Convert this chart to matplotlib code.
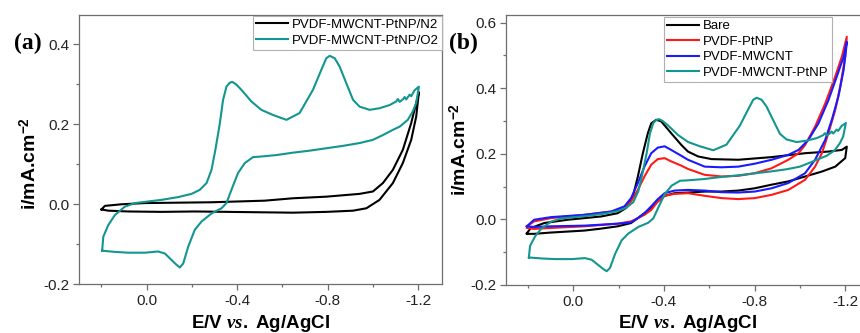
import matplotlib
matplotlib.use("Agg")
import matplotlib.pyplot as plt
from matplotlib.ticker import FixedLocator, FormatStrFormatter

# ---------------- data (E in V vs Ag/AgCl, i in mA cm^-2) ----------------
# PVDF-MWCNT-PtNP (O2) -- same curve appears in both panels
teal_E_fwd = [0.196, 0.191, 0.169, 0.140, 0.096, 0.051, -0.007, -0.066, -0.140, -0.199,
              -0.235, -0.265, -0.287, -0.304, -0.324, -0.338, -0.353, -0.366, -0.378, -0.395,
              -0.419, -0.463, -0.507, -0.559, -0.618, -0.676, -0.735, -0.772, -0.794, -0.809,
              -0.831, -0.853, -0.882, -0.912, -0.941, -0.985, -1.029, -1.074, -1.103, -1.110,
              -1.118, -1.132, -1.140, -1.147, -1.162, -1.169, -1.184, -1.203]
teal_I_fwd = [-0.116, -0.081, -0.052, -0.027, -0.006, 0.003, 0.007, 0.011, 0.018, 0.026,
              0.036, 0.053, 0.086, 0.136, 0.203, 0.261, 0.294, 0.303, 0.306, 0.300,
              0.286, 0.257, 0.236, 0.223, 0.211, 0.228, 0.286, 0.336, 0.365, 0.371,
              0.365, 0.344, 0.303, 0.261, 0.244, 0.236, 0.240, 0.248, 0.257, 0.263,
              0.256, 0.262, 0.268, 0.262, 0.274, 0.270, 0.285, 0.294]
teal_E_rev = [-1.191, -1.176, -1.154, -1.118, -1.088, -1.044, -1.0, -0.941, -0.868, -0.794,
              -0.721, -0.647, -0.574, -0.5, -0.471, -0.434, -0.404, -0.375, -0.353, -0.331,
              -0.287, -0.243, -0.213, -0.184, -0.162, -0.147, -0.130, -0.110, -0.081, -0.051,
              0.007, 0.081, 0.140, 0.196]
teal_I_rev = [0.253, 0.232, 0.211, 0.194, 0.186, 0.173, 0.161, 0.153, 0.146, 0.140,
              0.134, 0.129, 0.123, 0.119, 0.118, 0.103, 0.078, 0.036, 0.003, -0.010,
              -0.023, -0.043, -0.064, -0.106, -0.148, -0.158, -0.150, -0.139, -0.123, -0.118,
              -0.121, -0.121, -0.119, -0.116]

# PVDF-MWCNT-PtNP (N2)
n2_E_fwd = [0.199, 0.184, 0.110, 0.007, -0.140, -0.287, -0.522, -0.647, -0.794, -0.941,
            -1.0, -1.044, -1.088, -1.132, -1.169, -1.191, -1.203]
n2_I_fwd = [-0.013, -0.004, 0.0, 0.003, 0.004, 0.005, 0.009, 0.015, 0.019, 0.026,
            0.032, 0.053, 0.086, 0.136, 0.203, 0.253, 0.280]
n2_E_rev = [-1.191, -1.169, -1.132, -1.088, -1.029, -0.971, -0.912, -0.794, -0.647, -0.213,
            -0.066, 0.081, 0.169, 0.199]
n2_I_rev = [0.219, 0.161, 0.103, 0.053, 0.011, -0.010, -0.016, -0.019, -0.021, -0.018,
            -0.019, -0.018, -0.016, -0.013]

# Bare
bare_E_fwd = [0.205, 0.187, 0.128, 0.025, -0.049, -0.123, -0.196, -0.233, -0.263, -0.285,
              -0.307, -0.329, -0.344, -0.366, -0.388, -0.432, -0.477, -0.506, -0.551, -0.610,
              -0.728, -0.875, -1.023, -1.126, -1.185, -1.207]
bare_I_fwd = [-0.042, -0.026, -0.011, -0.001, 0.004, 0.009, 0.019, 0.035, 0.070, 0.131,
              0.202, 0.263, 0.293, 0.304, 0.299, 0.263, 0.227, 0.207, 0.192, 0.184,
              0.182, 0.190, 0.202, 0.207, 0.212, 0.222]
bare_E_rev = [-1.200, -1.156, -1.097, -1.023, -0.949, -0.875, -0.801, -0.728, -0.654, -0.580,
              -0.506, -0.447, -0.403, -0.373, -0.344, -0.314, -0.285, -0.255, -0.196, -0.123,
              -0.049, 0.025, 0.099, 0.173, 0.205]
bare_I_rev = [0.187, 0.161, 0.146, 0.131, 0.116, 0.106, 0.095, 0.088, 0.085, 0.085,
              0.082, 0.080, 0.072, 0.055, 0.035, 0.019, 0.004, -0.011, -0.021, -0.028,
              -0.034, -0.037, -0.040, -0.044, -0.044]

# PVDF-PtNP
ptnp_E_fwd = [0.205, 0.173, 0.099, -0.049, -0.167, -0.226, -0.255, -0.285, -0.314, -0.344,
              -0.373, -0.403, -0.432, -0.477, -0.506, -0.580, -0.654, -0.728, -0.801, -0.875,
              -0.949, -0.994, -1.023, -1.067, -1.112, -1.156, -1.185, -1.207]
ptnp_I_fwd = [-0.021, -0.006, 0.004, 0.014, 0.024, 0.035, 0.055, 0.090, 0.131, 0.167,
              0.184, 0.187, 0.177, 0.164, 0.154, 0.136, 0.131, 0.133, 0.141, 0.156,
              0.182, 0.202, 0.227, 0.283, 0.354, 0.436, 0.496, 0.557]
ptnp_E_rev = [-1.200, -1.178, -1.156, -1.126, -1.097, -1.067, -1.023, -0.949, -0.875, -0.801,
              -0.728, -0.654, -0.580, -0.506, -0.447, -0.403, -0.373, -0.344, -0.314, -0.285,
              -0.255, -0.196, -0.049, 0.099, 0.173, 0.205]
ptnp_I_rev = [0.496, 0.405, 0.334, 0.263, 0.202, 0.161, 0.121, 0.090, 0.075, 0.065,
              0.062, 0.065, 0.072, 0.080, 0.078, 0.072, 0.055, 0.029, 0.014, 0.004,
              -0.006, -0.013, -0.021, -0.026, -0.029, -0.026]

# PVDF-MWCNT
mw_E_fwd = [0.205, 0.173, 0.099, -0.049, -0.167, -0.226, -0.255, -0.285, -0.314, -0.344,
            -0.373, -0.403, -0.432, -0.477, -0.506, -0.580, -0.654, -0.728, -0.801, -0.875,
            -0.949, -0.994, -1.038, -1.082, -1.126, -1.163, -1.193, -1.207]
mw_I_fwd = [-0.021, -0.001, 0.007, 0.014, 0.024, 0.040, 0.065, 0.111, 0.161, 0.202,
            0.219, 0.223, 0.212, 0.194, 0.182, 0.161, 0.159, 0.161, 0.170, 0.182,
            0.197, 0.212, 0.243, 0.293, 0.364, 0.436, 0.496, 0.542]
mw_E_rev = [-1.207, -1.193, -1.170, -1.141, -1.112, -1.067, -1.023, -0.949, -0.875, -0.801,
            -0.728, -0.654, -0.580, -0.506, -0.447, -0.403, -0.373, -0.344, -0.314, -0.285,
            -0.255, -0.196, -0.049, 0.099, 0.173, 0.205]
mw_I_rev = [0.537, 0.456, 0.375, 0.304, 0.243, 0.182, 0.141, 0.111, 0.095, 0.085,
            0.082, 0.083, 0.088, 0.090, 0.088, 0.080, 0.062, 0.040, 0.019, 0.004,
            -0.009, -0.013, -0.019, -0.021, -0.023, -0.021]

x_major = [0.0, -0.4, -0.8, -1.2]
x_minor = [0.2, -0.2, -0.6, -1.0]
ya_major = [-0.2, 0.0, 0.2, 0.4]
ya_minor = [-0.1, 0.1, 0.3]
yb_major = [-0.2, 0.0, 0.2, 0.4, 0.6]
yb_minor = [-0.1, 0.1, 0.3, 0.5]

labels_a = ["PVDF-MWCNT-PtNP/N2", "PVDF-MWCNT-PtNP/O2"]
labels_b = ["Bare", "PVDF-PtNP", "PVDF-MWCNT", "PVDF-MWCNT-PtNP"]

# ---------------- style ----------------
plt.rcParams["font.family"] = ["Liberation Sans", "DejaVu Sans"]
plt.rcParams["axes.unicode_minus"] = False
plt.rcParams["mathtext.fontset"] = "custom"
plt.rcParams["mathtext.rm"] = "Liberation Sans:bold"
plt.rcParams["mathtext.bf"] = "Liberation Sans:bold"
plt.rcParams["mathtext.it"] = "Liberation Serif:bold:italic"

TEAL = "#13968f"
SPINE = "#6e6e6e"
LW = 1.5

fig = plt.figure(figsize=(8.6, 3.33), dpi=100)
ax_a = fig.add_axes([79.3 / 860, 1 - 284.3 / 333, (442 - 79.3) / 860, (284.3 - 15) / 333])
ax_b = fig.add_axes([506 / 860, 1 - 285 / 333, (869 - 506) / 860, (285 - 15) / 333])


def loop(ef, i_f, er, ir):
    return list(ef) + list(er), list(i_f) + list(ir)


def style(ax, ymaj, ymin, ylim):
    ax.set_xlim(0.297, -1.305)
    ax.set_ylim(*ylim)
    ax.xaxis.set_major_locator(FixedLocator(x_major))
    ax.xaxis.set_minor_locator(FixedLocator(x_minor))
    ax.yaxis.set_major_locator(FixedLocator(ymaj))
    ax.yaxis.set_minor_locator(FixedLocator(ymin))
    ax.xaxis.set_major_formatter(FormatStrFormatter("%.1f"))
    ax.yaxis.set_major_formatter(FormatStrFormatter("%.1f"))
    for s in ax.spines.values():
        s.set_color(SPINE)
        s.set_linewidth(0.9)
    ax.tick_params(which="major", direction="out", length=4, width=0.9, color=SPINE,
                   labelsize=11, labelcolor="#222222", pad=3)
    ax.tick_params(which="minor", direction="out", length=2.5, width=0.9, color=SPINE)
    ax.set_xlabel(r"E/V $\mathit{vs.}$ Ag/AgCl", fontsize=13.5, fontweight="bold")
    ax.set_ylabel(r"i/mA.cm$^{-2}$", fontsize=14, fontweight="bold")


LEG_KW = dict(loc="upper right", borderaxespad=0, fontsize=9.5, handlelength=2.4,
              handletextpad=0.3, labelspacing=0.25, borderpad=0.25, fancybox=False,
              framealpha=1, edgecolor="#b0b0b0")

# Panel (a)
e, i = loop(n2_E_fwd, n2_I_fwd, n2_E_rev, n2_I_rev)
ax_a.plot(e, i, color="black", lw=LW, label=labels_a[0])
e, i = loop(teal_E_fwd, teal_I_fwd, teal_E_rev, teal_I_rev)
ax_a.plot(e, i, color=TEAL, lw=LW, label=labels_a[1])
style(ax_a, ya_major, ya_minor, (-0.2, 0.473))
ax_a.xaxis.set_label_coords(0.5, -0.105)
ax_a.yaxis.set_label_coords(-0.108, 0.45)
leg = ax_a.legend(bbox_to_anchor=(1.0, 0.998), **LEG_KW)
leg.get_frame().set_linewidth(0.8)

# Panel (b)
e, i = loop(bare_E_fwd, bare_I_fwd, bare_E_rev, bare_I_rev)
ax_b.plot(e, i, color="black", lw=LW, label=labels_b[0])
e, i = loop(ptnp_E_fwd, ptnp_I_fwd, ptnp_E_rev, ptnp_I_rev)
ax_b.plot(e, i, color="#ff1a1a", lw=LW, label=labels_b[1])
e, i = loop(mw_E_fwd, mw_I_fwd, mw_E_rev, mw_I_rev)
ax_b.plot(e, i, color="#1a1aff", lw=LW, label=labels_b[2])
e, i = loop(teal_E_fwd, teal_I_fwd, teal_E_rev, teal_I_rev)
ax_b.plot(e, i, color=TEAL, lw=LW, label=labels_b[3])
style(ax_b, yb_major, yb_minor, (-0.2, 0.6235))
ax_b.xaxis.set_label_coords(0.5, -0.105)
ax_b.yaxis.set_label_coords(-0.099, 0.5)
leg = ax_b.legend(bbox_to_anchor=(0.898, 0.993), **LEG_KW)
leg.get_frame().set_linewidth(0.8)

fig.text(28 / 860, 1 - 43 / 333, "(a)", fontsize=17, fontweight="bold",
         family="Liberation Serif", ha="center", va="center")
fig.text(463 / 860, 1 - 43 / 333, "(b)", fontsize=17, fontweight="bold",
         family="Liberation Serif", ha="center", va="center")

fig.savefig("out.png", dpi=100)
